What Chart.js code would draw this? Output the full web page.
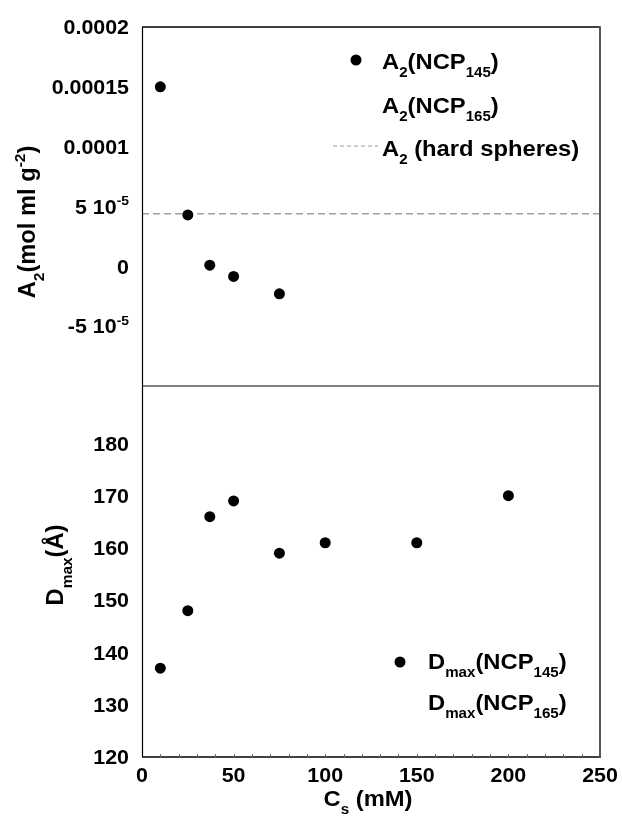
<!DOCTYPE html>
<html><head><meta charset="utf-8">
<script src="https://cdn.jsdelivr.net/npm/chart.js@4"></script>
<style>
html,body{margin:0;padding:0;background:#fff;}
#wrap{position:relative;width:622px;height:825px;overflow:hidden;}
#c1{position:absolute;left:0;top:0;}
#c2{position:absolute;left:0;top:360px;}
</style></head><body>
<div id="wrap"><canvas id="c2" width="622" height="465"></canvas><canvas id="c1" width="622" height="410"></canvas></div>
<script>
// ---- data ----
const dmaxConc = [10, 25, 37, 50, 75, 100, 150, 200];
const dmaxNCP145 = [137, 148, 166, 169, 159, 161, 161, 170];
const a2Conc = [10, 25, 37, 50, 75];
const a2NCP145 = [1.5e-4, 4.3e-5, 1e-6, -8.4e-6, -2.3e-5];
const a2HardSpheres = 4.4e-5;
const xTickValues = [0, 50, 100, 150, 200, 250];
const a2TickValues = [-1e-4, -5e-5, 0, 5e-5, 1e-4, 1.5e-4, 2e-4];
const a2TickLabels = ['', '-5 10^{-5}', '0', '5 10^{-5}', '0.0001', '0.00015', '0.0002'];
const dmaxTickValues = [120, 130, 140, 150, 160, 170, 180];
const xTitle = 'C_{s} (mM)';
const a2Title = 'A_{2}(mol ml g^{-2})';
const dmaxTitle = 'D_{max}(Å)';
const a2Legend = ['A_{2}(NCP_{145})', 'A_{2}(NCP_{165})', 'A_{2} (hard spheres)'];
const dmaxLegend = ['D_{max}(NCP_{145})', 'D_{max}(NCP_{165})'];

// ---- style ----
const FONT = '"Liberation Sans", Arial, sans-serif';
const TF = 20, SX = 1.07;   // tick font
const LF = 22, LSX = 1.08;  // legend font
const YF = 23;              // y title font
const L = 142, R = 600, T = 27, MID = 386, B = 757;

function parse(str) {
  const out = [];
  const re = /(_\{[^}]*\}|\^\{[^}]*\})/g;
  let last = 0, m;
  while ((m = re.exec(str))) {
    if (m.index > last) out.push({ t: str.slice(last, m.index), k: 0 });
    out.push({ t: m[0].slice(2, -1), k: m[0][0] === '_' ? 1 : 2 });
    last = re.lastIndex;
  }
  if (last < str.length) out.push({ t: str.slice(last), k: 0 });
  return out;
}
function drawRich(ctx, str, x, y, F, align, sx, rot) {
  const segs = parse(str);
  let w = 0;
  for (const s of segs) {
    ctx.font = 'bold ' + (s.k ? Math.round(F * 0.64) : F) + 'px ' + FONT;
    s.w = ctx.measureText(s.t).width; w += s.w;
  }
  ctx.save();
  ctx.translate(x, y);
  if (rot) ctx.rotate(rot);
  ctx.scale(sx, 1);
  let cx = align === 'right' ? -w : align === 'center' ? -w / 2 : 0;
  ctx.fillStyle = '#000';
  ctx.textBaseline = 'alphabetic';
  ctx.textAlign = 'left';
  for (const s of segs) {
    ctx.font = 'bold ' + (s.k ? Math.round(F * 0.64) : F) + 'px ' + FONT;
    const dy = s.k === 1 ? F * 0.38 : s.k === 2 ? -F * 0.42 : 0;
    ctx.fillText(s.t, cx, dy);
    cx += s.w;
  }
  ctx.restore();
}
function line(ctx, x1, y1, x2, y2, w, c) {
  ctx.save(); ctx.strokeStyle = c; ctx.lineWidth = w;
  ctx.beginPath(); ctx.moveTo(x1, y1); ctx.lineTo(x2, y2); ctx.stroke(); ctx.restore();
}

// ---- top chart: A2 ----
const topDecor = {
  id: 'topDecor',
  afterDraw(chart) {
    const ctx = chart.ctx, a = chart.chartArea, ys = chart.scales.y;
    line(ctx, a.left, a.top, a.right, a.top, 1.5, '#000');
    line(ctx, a.left + 0.5, a.top, a.left + 0.5, a.bottom, 1.2, '#000');
    line(ctx, a.right, a.top - 0.7, a.right, a.bottom, 2, '#555');
    ys.ticks.forEach((t) => {
      const idx = a2TickValues.findIndex(v => Math.abs(v - t.value) < 1e-9);
      const lab = idx >= 0 ? a2TickLabels[idx] : '';
      if (lab) drawRich(ctx, lab, 129, ys.getPixelForValue(t.value) + TF * 0.36, TF, 'right', SX);
    });
    drawRich(ctx, a2Title, 35, 222, YF, 'center', 1.03, -Math.PI / 2);
    // legend
    ctx.save(); ctx.fillStyle = '#000'; ctx.beginPath(); ctx.arc(356, 60, 5.5, 0, Math.PI * 2); ctx.fill(); ctx.restore();
    drawRich(ctx, a2Legend[0], 382, 69, LF, 'left', LSX);
    drawRich(ctx, a2Legend[1], 382, 113, LF, 'left', LSX);
    ctx.save(); ctx.setLineDash([4, 3]); line(ctx, 333, 146, 378, 146, 1, '#999'); ctx.restore();
    drawRich(ctx, a2Legend[2], 382, 156, LF, 'left', LSX);
  }
};

new Chart(document.getElementById('c1'), {
  type: 'scatter',
  data: {
    datasets: [
      {
        label: 'A2(NCP145)',
        data: a2Conc.map((x, i) => ({ x, y: a2NCP145[i] })),
        backgroundColor: '#000', borderWidth: 0, pointRadius: 5.5, pointHoverRadius: 5.5, order: 0
      },
      {
        label: 'A2 (hard spheres)', type: 'line',
        data: [{ x: 0, y: a2HardSpheres }, { x: 250, y: a2HardSpheres }],
        borderColor: '#a0a0a0', borderWidth: 1.5, borderDash: [7, 4], pointRadius: 0, fill: false, order: 1
      }
    ]
  },
  options: {
    responsive: false, animation: false, devicePixelRatio: 1,
    layout: { padding: { left: 0, right: 622 - R, top: T, bottom: 410 - MID } },
    plugins: { legend: { display: false }, tooltip: { enabled: false } },
    scales: {
      x: { type: 'linear', min: 0, max: 250, display: false },
      y: {
        type: 'linear', min: -1e-4, max: 2e-4,
        afterBuildTicks: s => { s.ticks = a2TickValues.map(v => ({ value: v })); },
        afterFit: s => { s.width = L; },
        ticks: { display: false },
        grid: { display: false }, border: { display: false }
      }
    }
  },
  plugins: [topDecor]
});

// ---- bottom chart: Dmax ----
const OFF = 360;
const botDecor = {
  id: 'botDecor',
  afterDraw(chart) {
    const ctx = chart.ctx, a = chart.chartArea, ys = chart.scales.y, xs = chart.scales.x;
    line(ctx, a.left, a.top, a.right, a.top, 1.2, '#000');
    line(ctx, a.left + 0.5, a.top, a.left + 0.5, a.bottom, 1.2, '#000');
    line(ctx, a.left, a.bottom, a.right + 1, a.bottom, 1.5, '#000');
    line(ctx, a.right, a.top, a.right, a.bottom + 0.7, 2, '#555');
    for (let v = 10; v < 250; v += 10) {
      const px = Math.round(xs.getPixelForValue(v)) + 0.5;
      line(ctx, px, a.bottom - 3, px, a.bottom, 1, '#666');
    }
    xs.ticks.forEach(t => {
      drawRich(ctx, String(t.value), xs.getPixelForValue(t.value), 782 - OFF, TF, 'center', SX);
    });
    ys.ticks.forEach(t => {
      drawRich(ctx, String(t.value), 129, ys.getPixelForValue(t.value) + TF * 0.36, TF, 'right', SX);
    });
    drawRich(ctx, xTitle, 368, 806 - OFF, LF, 'center', LSX);
    drawRich(ctx, dmaxTitle, 63, 565 - OFF, YF, 'center', 1.03, -Math.PI / 2);
    ctx.save(); ctx.fillStyle = '#000'; ctx.beginPath(); ctx.arc(400, 662 - OFF, 5.5, 0, Math.PI * 2); ctx.fill(); ctx.restore();
    drawRich(ctx, dmaxLegend[0], 428, 669 - OFF, LF, 'left', LSX);
    drawRich(ctx, dmaxLegend[1], 428, 710 - OFF, LF, 'left', LSX);
  }
};

new Chart(document.getElementById('c2'), {
  type: 'scatter',
  data: {
    datasets: [{
      label: 'Dmax(NCP145)',
      data: dmaxConc.map((x, i) => ({ x, y: dmaxNCP145[i] })),
      backgroundColor: '#000', borderWidth: 0, pointRadius: 5.5, pointHoverRadius: 5.5
    }]
  },
  options: {
    responsive: false, animation: false, devicePixelRatio: 1,
    layout: { padding: { left: 0, right: 622 - R, top: MID - OFF, bottom: 0 } },
    plugins: { legend: { display: false }, tooltip: { enabled: false } },
    scales: {
      x: {
        type: 'linear', min: 0, max: 250,
        afterBuildTicks: s => { s.ticks = xTickValues.map(v => ({ value: v })); },
        afterFit: s => { s.height = 825 - B; },
        ticks: { display: false },
        grid: { display: false }, border: { display: false }
      },
      y: {
        type: 'linear', min: 120, max: 191,
        afterBuildTicks: s => { s.ticks = dmaxTickValues.map(v => ({ value: v })); },
        afterFit: s => { s.width = L; },
        ticks: { display: false },
        grid: { display: false }, border: { display: false }
      }
    }
  },
  plugins: [botDecor]
});
</script>
</body></html>
